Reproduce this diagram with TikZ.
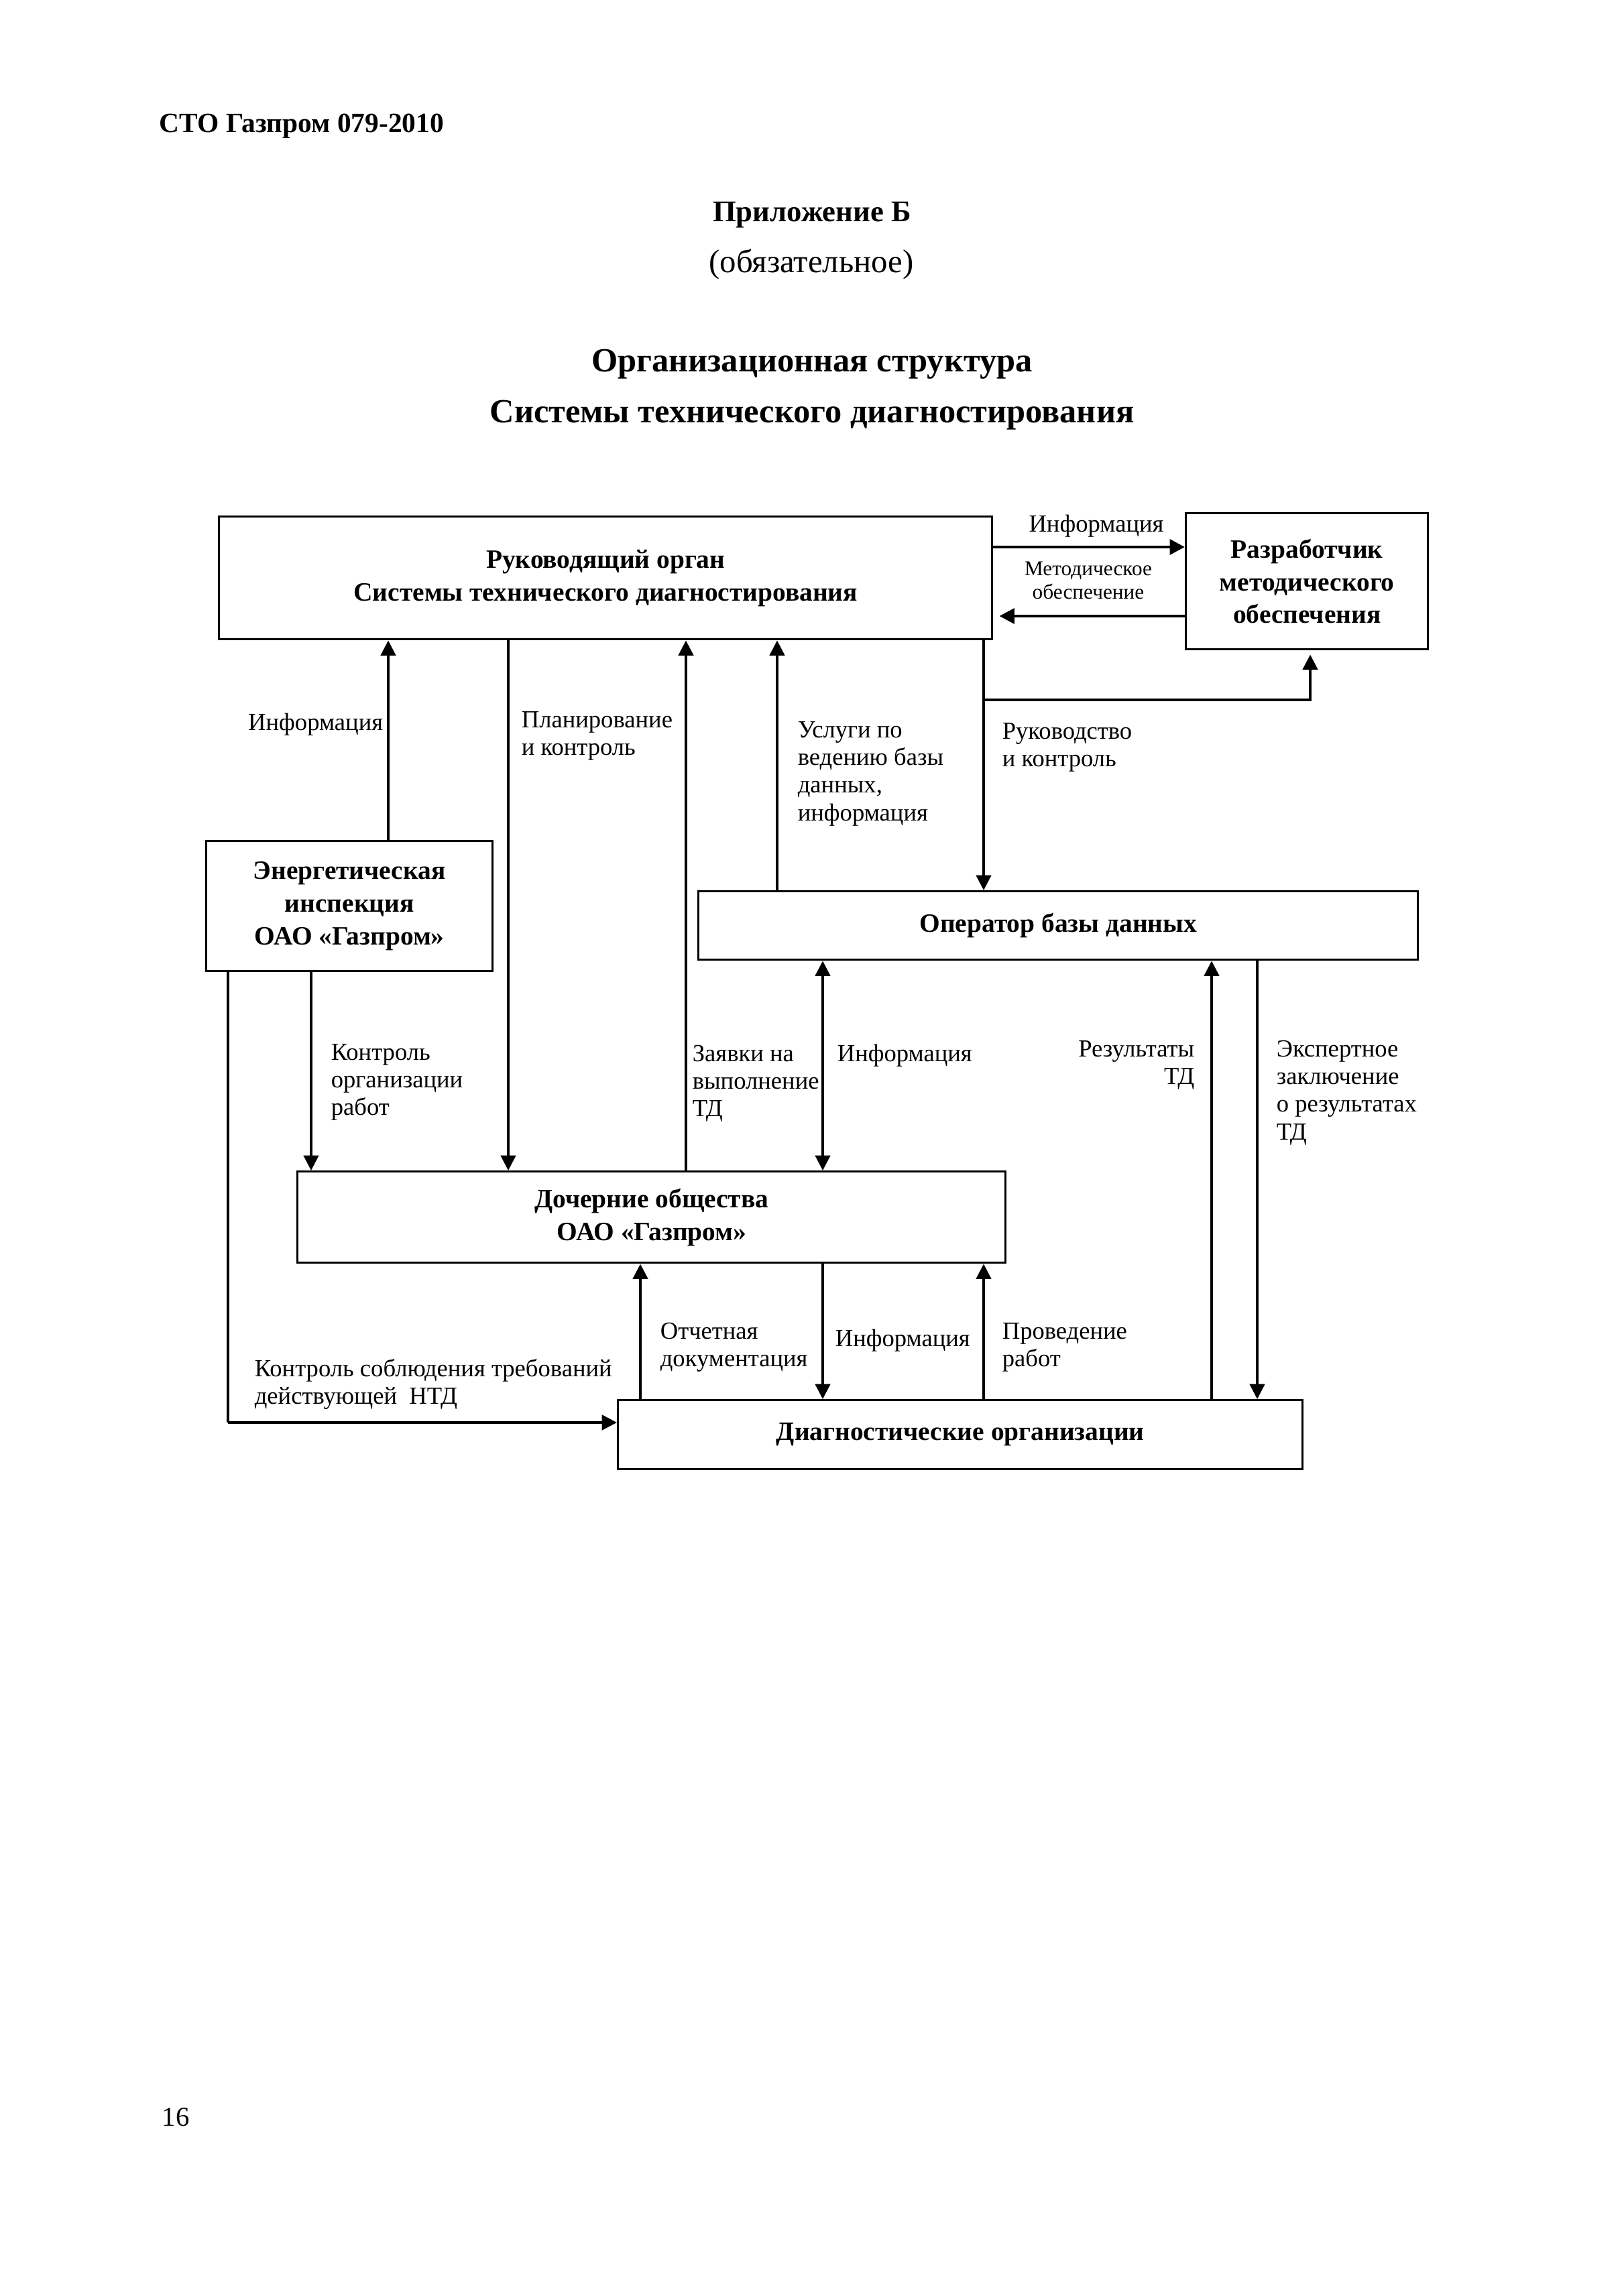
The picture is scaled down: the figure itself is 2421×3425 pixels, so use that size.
\documentclass[tikz,border=0pt]{standalone}
\usepackage{fontspec}
\setmainfont{Liberation Serif}
\usetikzlibrary{arrows.meta}
\newcommand\lnsl[1]{\begin{tabular}[t]{@{}l@{}}#1\end{tabular}}
\newcommand\lnsr[1]{\begin{tabular}[t]{@{}r@{}}#1\end{tabular}}
\newcommand\lnsc[1]{\begin{tabular}[t]{@{}c@{}}#1\end{tabular}}
\begin{document}
\begin{tikzpicture}[x=0.24588pt,y=-0.24588pt,
  box/.style={draw, line width=0.85pt, inner sep=0pt, anchor=north west, align=center,
    font=\fontsize{9.7}{12}\selectfont\bfseries},
  conn/.style={line width=0.8pt},
  arr/.style={conn, -{Triangle[length=5.5pt,width=5.5pt]}},
  darr/.style={conn, {Triangle[length=5.5pt,width=5.5pt]}-{Triangle[length=5.5pt,width=5.5pt]}},
  thickarr/.style={line width=1.2pt, -{Triangle[length=5.5pt,width=5.5pt]}},
  lbl/.style={inner sep=0pt, anchor=base west, font=\fontsize{9}{10.2}\selectfont},
  lblr/.style={lbl, anchor=base east},
  lblc/.style={lbl, anchor=base},
  smalllbl/.style={inner sep=0pt, anchor=base, font=\fontsize{7.7}{8.8}\selectfont},
  hdr/.style={inner sep=0pt, anchor=base west, font=\fontsize{10.2}{12}\selectfont\bfseries}
]
\fill[white] (0,0) rectangle (2421,3425);
\path[use as bounding box] (0,0) rectangle (2421,3425);

% page texts
\node[hdr] (hdr) at (237,198) {СТО Газпром 079-2010};
\node[inner sep=0pt, anchor=base, font=\fontsize{11}{13}\selectfont\bfseries] (app) at (1211,331) {Приложение Б};
\node[inner sep=0pt, anchor=base, font=\fontsize{12}{14}\selectfont] (oblig) at (1210,407) {(обязательное)};
\node[inner sep=0pt, anchor=base, font=\fontsize{12.4}{18.5}\selectfont\bfseries] (title) at (1211,555)
  {\lnsc{Организационная структура\\Системы технического диагностирования}};
\node[inner sep=0pt, anchor=base west, font=\fontsize{10}{12}\selectfont] (pnum) at (241,3171) {16};

% boxes
\node[box, minimum width=1153*0.24588pt, minimum height=183*0.24588pt] (ruk) at (325,769)
  {Руководящий орган\\Системы технического диагностирования};
\node[box, minimum width=361*0.24588pt, minimum height=203*0.24588pt] (razr) at (1767,764)
  {Разработчик\\методического\\обеспечения};
\node[box, minimum width=427*0.24588pt, minimum height=194*0.24588pt] (energ) at (306,1253)
  {Энергетическая\\инспекция\\ОАО «Газпром»};
\node[box, minimum width=1073*0.24588pt, minimum height=102*0.24588pt] (oper) at (1040,1328)
  {Оператор базы данных};
\node[box, minimum width=1056*0.24588pt, minimum height=136*0.24588pt] (doch) at (442,1746)
  {Дочерние общества\\ОАО «Газпром»};
\node[box, minimum width=1021*0.24588pt, minimum height=103*0.24588pt] (diag) at (920,2087)
  {Диагностические организации};

% x positions of connectors
\coordinate (xA) at (579,0);
\coordinate (xP) at (758,0);
\coordinate (xZ) at (1023,0);
\coordinate (xU) at (1159,0);
\coordinate (xR) at (1467,0);
\coordinate (xB) at (1954,0);
\coordinate (xK) at (464,0);
\coordinate (xI) at (1227,0);
\coordinate (xRz) at (1807,0);
\coordinate (xE) at (1875,0);
\coordinate (xO) at (955,0);
\coordinate (yI) at (0,816);
\coordinate (yM) at (0,919);
\coordinate (br) at (1467,1044);
\coordinate (cL) at (340,2122);

% connectors
\draw[thickarr] (ruk.east |- yI) -- (razr.west |- yI);
\draw[thickarr, shorten >=2.2pt] (razr.west |- yM) -- (ruk.east |- yM);
\draw[arr] (energ.north -| xA) -- (ruk.south -| xA);
\draw[arr] (ruk.south -| xP) -- (doch.north -| xP);
\draw[arr] (doch.north -| xZ) -- (ruk.south -| xZ);
\draw[arr] (oper.north -| xU) -- (ruk.south -| xU);
\draw[arr] (ruk.south -| xR) -- (oper.north -| xR);
\draw[arr, shorten >=1.5pt] (br) -| (razr.south -| xB);
\draw[arr] (energ.south -| xK) -- (doch.north -| xK);
\draw[conn] (energ.south -| cL) -- (cL);
\draw[thickarr, line width=1pt] (cL) -- (diag.west |- cL);
\draw[darr] (oper.south -| xI) -- (doch.north -| xI);
\draw[arr] (diag.north -| xRz) -- (oper.south -| xRz);
\draw[arr] (oper.south -| xE) -- (diag.north -| xE);
\draw[arr] (diag.north -| xO) -- (doch.south -| xO);
\draw[arr] (doch.south -| xI) -- (diag.north -| xI);
\draw[arr] (diag.north -| xR) -- (doch.south -| xR);

% labels
\node[lblc] (lInfoTop) at (1635,793) {Информация};
\node[smalllbl] (lMet) at (1623,858) {\lnsc{Методическое\\обеспечение}};
\node[lblr] (lInfoA) at (572,1089) {Информация};
\node[lbl] (lPlan) at (777,1085) {\lnsl{Планирование\\и контроль}};
\node[lbl] (lUsl) at (1189,1100) {\lnsl{Услуги по\\ведению базы\\данных,\\информация}};
\node[lbl] (lRuk) at (1494,1102) {\lnsl{Руководство\\и контроль}};
\node[lbl] (lKontr) at (493,1581) {\lnsl{Контроль\\организации\\работ}};
\node[lbl] (lZayav) at (1032,1583) {\lnsl{Заявки на\\выполнение\\ТД}};
\node[lbl] (lInfoB) at (1248,1583) {Информация};
\node[lblr] (lRez) at (1782,1576) {\lnsr{Результаты\\ТД}};
\node[lbl] (lExp) at (1903,1576) {\lnsl{Экспертное\\заключение\\о результатах\\ТД}};
\node[lbl] (lOtch) at (984,1997) {\lnsl{Отчетная\\документация}};
\node[lbl] (lInfoC) at (1245,2008) {Информация};
\node[lbl] (lProv) at (1494,1997) {\lnsl{Проведение\\работ}};
\node[lbl] (lNTD) at (379,2053) {\lnsl{Контроль соблюдения требований\\действующей\ \ НТД}};
\end{tikzpicture}
\end{document}
